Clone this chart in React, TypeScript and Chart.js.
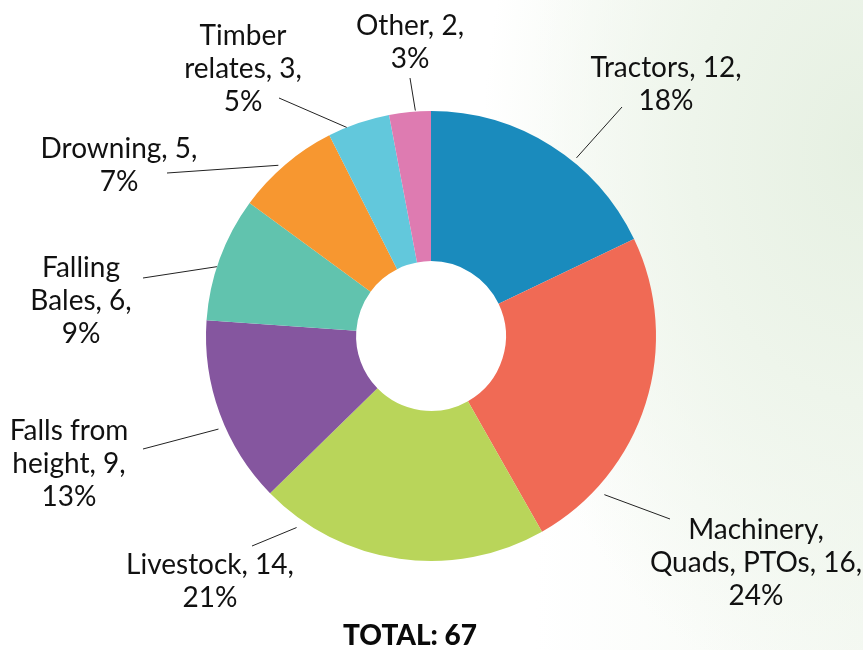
import React, { useEffect, useRef } from "react";
import { Chart, registerables } from "chart.js";

Chart.register(...registerables);

// ---- data ----
const categories = [
  "Tractors",
  "Machinery,\nQuads, PTOs",
  "Livestock",
  "Falls from\nheight",
  "Falling\nBales",
  "Drowning",
  "Timber\nrelates",
  "Other",
];
const values = [12, 16, 14, 9, 6, 5, 3, 2];
const percents = [18, 24, 21, 13, 9, 7, 5, 3];
const totalLabel = "TOTAL: 67";

// ---- styles ----
const colors = [
  "#1a8bbd",
  "#f06a55",
  "#b9d55a",
  "#85569f",
  "#61c3ae",
  "#f79730",
  "#62c8dc",
  "#de7bb1",
];

// label placement relative to chart centre (leader start from arc angle)
const placement = [
  { shift: 7, gap: 5, ex: 191, ey: -229, tx: 235, ty: -259 },
  { shift: 25, gap: 10, ex: 239, ey: 183, tx: 325, ty: 203 },
  { shift: 27, gap: 9, ex: -179, ey: 210, tx: -221, ty: 238 },
  { shift: -3.5, gap: 7, ex: -288, ey: 113, tx: -362, ty: 104 },
  { shift: -2.2, gap: 0, ex: -288, ey: -58, tx: -350, ty: -59 },
  { shift: -1.5, gap: 4, ex: -264, ey: -163, tx: -312, ty: -178 },
  { shift: -3.2, gap: 0, ex: -152, ey: -238, tx: -188, ty: -291.5 },
  { shift: 1.4, gap: 1, ex: -21, ey: -258, tx: -21, ty: -301 },
];

const FONT = "Lato, 'Open Sans', sans-serif";
const LINE_H = 33;

const labelPlugin = {
  id: "outLabels",
  afterDraw(chart: any) {
    const ctx = chart.ctx;
    const meta = chart.getDatasetMeta(0);
    ctx.save();
    meta.data.forEach((arc: any, i: number) => {
      const p = placement[i];
      const { x, y, startAngle, endAngle, outerRadius } = arc.getProps(
        ["x", "y", "startAngle", "endAngle", "outerRadius"],
        true
      );
      const mid = (startAngle + endAngle) / 2 + (p.shift * Math.PI) / 180;
      const r = outerRadius + p.gap;
      const sx = x + Math.cos(mid) * r;
      const sy = y + Math.sin(mid) * r;
      ctx.beginPath();
      ctx.strokeStyle = "#222";
      ctx.lineWidth = 1;
      ctx.moveTo(sx, sy);
      ctx.lineTo(x + p.ex, y + p.ey);
      ctx.stroke();

      const text = `${categories[i]}, ${values[i]},\n${percents[i]}%`;
      const lines = text.split("\n");
      ctx.fillStyle = "#111";
      ctx.font = `28px ${FONT}`;
      ctx.textAlign = "center";
      ctx.textBaseline = "alphabetic";
      lines.forEach((ln, k) => {
        ctx.fillText(ln, x + p.tx, y + p.ty + k * LINE_H);
      });
    });
    ctx.font = `900 28px ${FONT}`;
    ctx.fillStyle = "#0a0a0a";
    ctx.textAlign = "center";
    ctx.fillText(totalLabel, 410, 645);
    ctx.restore();
  },
};

export default function App() {
  const ref = useRef<HTMLCanvasElement>(null);
  useEffect(() => {
    document.body.style.margin = "0";
    const chart = new Chart(ref.current as HTMLCanvasElement, {
      type: "doughnut",
      data: {
        labels: categories.map((c) => c.replace("\n", " ")),
        datasets: [
          {
            data: values,
            backgroundColor: colors,
            borderWidth: 0,
          },
        ],
      },
      options: {
        animation: false,
        responsive: false,
        maintainAspectRatio: false,
        cutout: "33.3%",
        layout: { padding: { top: 111, bottom: 89, left: 206, right: 207 } },
        plugins: {
          legend: { display: false },
          tooltip: { enabled: false },
        },
      },
      plugins: [labelPlugin],
    });
    return () => chart.destroy();
  }, []);
  return (
    <div
      style={{
        width: 863,
        height: 650,
        position: "relative",
        background:
          "radial-gradient(ellipse 380px 560px at 863px 150px, #e6f0e2 0%, #eef5eb 45%, rgba(255,255,255,0) 100%), linear-gradient(90deg, #ffffff 0%, #ffffff 62%, #f5f9f3 100%)",
      }}
    >
      <canvas ref={ref} width={863} height={650} style={{ display: "block" }} />
    </div>
  );
}
